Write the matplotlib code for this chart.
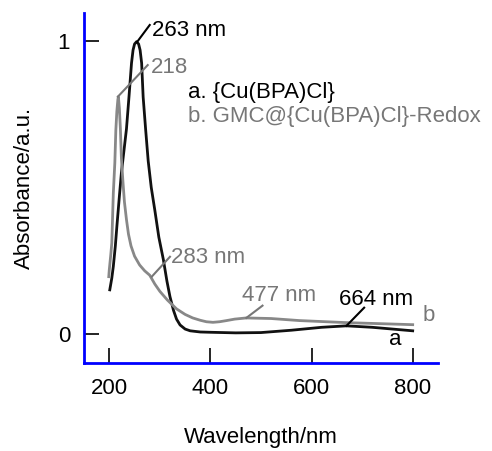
import numpy as np
import matplotlib
matplotlib.use("Agg")
import matplotlib.pyplot as plt

plt.rcParams['font.family'] = ['Liberation Sans', 'DejaVu Sans']

# curve a: {Cu(BPA)Cl}
wl_a = [201, 205, 208, 212, 215, 220, 224, 229, 234, 239, 244, 247, 250, 254,
        258, 261, 264, 267, 272, 277, 283, 290, 298, 307, 314, 320, 327, 333,
        340, 350, 360, 380, 400, 450, 500, 560, 620, 669, 720, 760, 800]
abs_a = [0.15, 0.19, 0.23, 0.3, 0.366, 0.47, 0.55, 0.625, 0.70, 0.81, 0.925,
         0.969, 0.99, 0.998, 0.99, 0.969, 0.925, 0.809, 0.696, 0.59, 0.5, 0.423,
         0.33, 0.253, 0.18, 0.127, 0.08, 0.05, 0.03, 0.016, 0.01, 0.006, 0.005,
         0.003, 0.004, 0.012, 0.022, 0.027, 0.022, 0.016, 0.01]

# curve b: GMC@{Cu(BPA)Cl}-Redox
wl_b = [199, 200, 203, 205, 208, 211, 213, 215, 217, 218, 220, 222, 224, 227,
        230, 234, 238, 243, 250, 260, 270, 280, 290, 300, 315, 333, 350,
        365, 380, 392, 405, 418, 432, 448, 471, 520, 576, 669, 800]
abs_b = [0.195, 0.218, 0.27, 0.31, 0.48, 0.584, 0.696, 0.76, 0.8, 0.81, 0.77,
         0.70, 0.60, 0.52, 0.45, 0.39, 0.34, 0.30, 0.265, 0.235, 0.215, 0.2,
         0.17, 0.145, 0.115, 0.085, 0.066, 0.054, 0.046, 0.041, 0.039, 0.041,
         0.045, 0.05, 0.054, 0.052, 0.045, 0.038, 0.031]

# peak labels: (text, peak x, peak y, leader end x, leader end y, text x, text y, colour)
peaks = [
    ("263 nm", 255, 0.997, 280, 1.055, 284, 1.037, "black"),
    ("218", 217, 0.81, 276, 0.918, 282, 0.911, "#777777"),
    ("283 nm", 284, 0.195, 320, 0.263, 322, 0.259, "#777777"),
    ("477 nm", 471, 0.054, 503, 0.096, 463, 0.13, "#777777"),
    ("664 nm", 669, 0.027, 704, 0.089, 655, 0.116, "black"),
]

fig = plt.figure(figsize=(4.92, 4.51), dpi=100)
ax = fig.add_axes([0.1707, 0.1951, 0.7195, 0.7761])

ax.plot(wl_a, abs_a, color="#111111", lw=2)
ax.plot(wl_b, abs_b, color="#888888", lw=2)

for txt, px, py, lx, ly, tx, ty, c in peaks:
    ax.plot([px, lx], [py, ly], color=c, lw=1.5)
    ax.text(tx, ty, txt, color=c, fontsize=16, ha="left", va="center")

ax.text(819, 0.061, "b", color="#777777", fontsize=16, ha="left", va="center")
ax.text(766, -0.02, "a", color="black", fontsize=16, ha="center", va="center")
ax.text(355, 0.826, "a. {Cu(BPA)Cl}", color="black", fontsize=16, va="center")
ax.text(355, 0.741, "b. GMC@{Cu(BPA)Cl}-Redox", color="#777777", fontsize=16,
        va="center")

ax.set_xlim(150, 850)
ax.set_ylim(-0.1, 1.096)
ax.set_xticks([200, 400, 600, 800])
ax.set_yticks([0, 1])
ax.tick_params(direction="in", length=11, width=1.2, labelsize=16, pad=10)
ax.tick_params(axis="x", pad=11)

for s in ["top", "right"]:
    ax.spines[s].set_visible(False)
for s in ["left", "bottom"]:
    ax.spines[s].set_color("blue")
    ax.spines[s].set_linewidth(2)

ax.set_xlabel("Wavelength/nm", fontsize=16, labelpad=20)
ax.set_ylabel("Absorbance/a.u.", fontsize=16, labelpad=16)

plt.savefig("out.png", dpi=100)
